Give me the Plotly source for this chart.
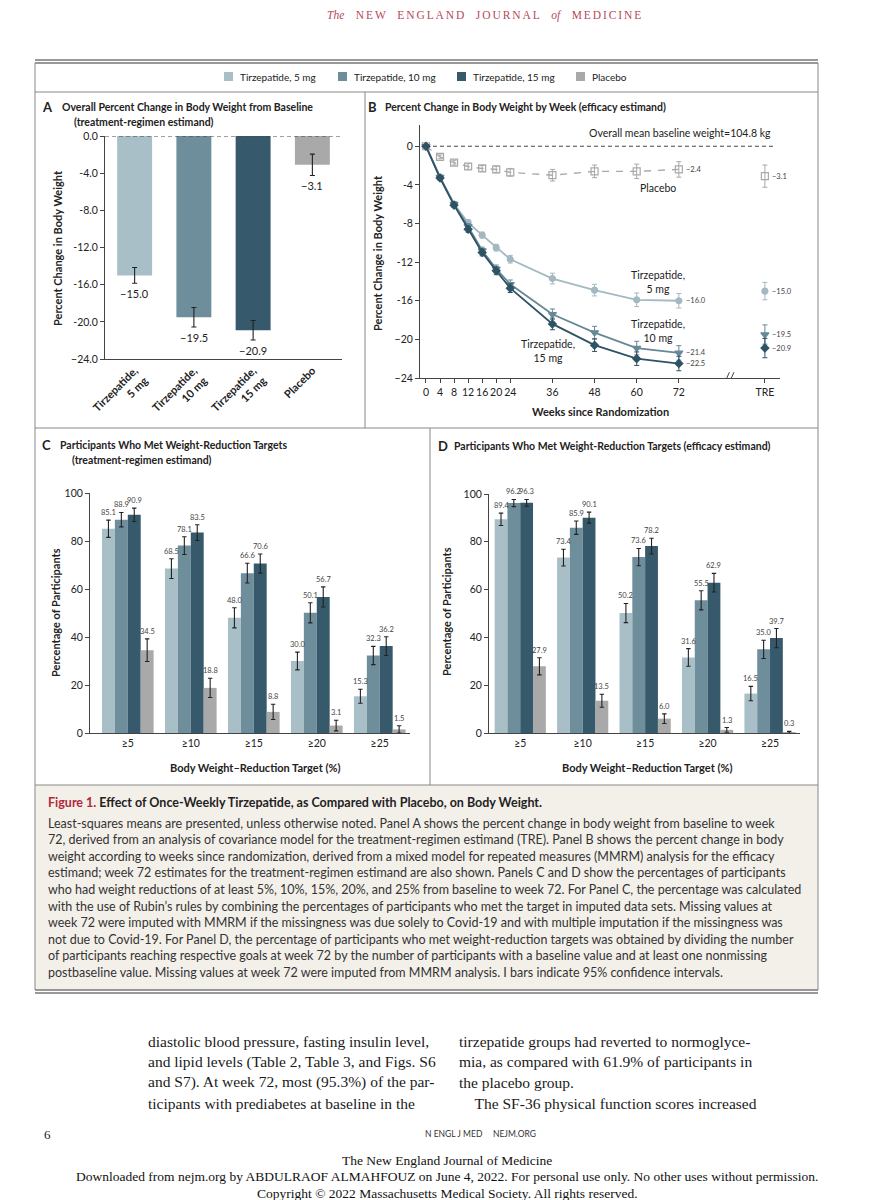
import plotly.graph_objects as go

W, H = 894, 1200


def px(x):
    return x / W


def py(y):
    return 1 - y / H


SANS = "Lato"
SERIF = "Liberation Serif"
INK = "#222222"
AXIS = "#444444"

# ---------------- data ----------------
GROUPS = ["Tirzepatide, 5 mg", "Tirzepatide, 10 mg", "Tirzepatide, 15 mg", "Placebo"]
COLORS = ["#a9bfc8", "#6f8e9c", "#365a6b", "#a9a9a9"]

# Panel A (treatment-regimen estimand, week 72)
a_ticktext = ["Tirzepatide,<br>5 mg", "Tirzepatide,<br>10 mg", "Tirzepatide,<br>15 mg", "Placebo"]
a_change = [-15.0, -19.5, -20.9, -3.1]
a_ci = [0.85, 1.05, 1.05, 1.15]
a_yticks = [0, -4, -8, -12, -16, -20, -24]
a_yticktext = ["0.0", "-4.0", "-8.0", "-12.0", "-16.0", "-20.0", "\u221224.0"]

# Panel B (efficacy estimand by week)
weeks = [0, 4, 8, 12, 16, 20, 24, 36, 48, 60, 72]
b_placebo = [0, -1.1, -1.7, -2.1, -2.3, -2.4, -2.7, -3.0, -2.6, -2.6, -2.4]
b_t5 = [0, -3.2, -6.0, -7.9, -9.2, -10.5, -11.7, -13.7, -14.9, -15.9, -16.0]
b_t10 = [0, -3.2, -6.0, -8.3, -10.8, -12.7, -14.3, -17.4, -19.3, -20.9, -21.4]
b_t15 = [0, -3.3, -6.1, -8.6, -11.0, -12.9, -14.7, -18.4, -20.6, -22.0, -22.5]
b_placebo_ci = [0, 0.2, 0.25, 0.3, 0.3, 0.35, 0.4, 0.6, 0.65, 0.75, 0.8]
b_t5_ci = [0, 0.2, 0.25, 0.3, 0.3, 0.35, 0.4, 0.55, 0.6, 0.7, 0.75]
b_t10_ci = [0, 0.2, 0.25, 0.3, 0.35, 0.4, 0.45, 0.55, 0.65, 0.7, 0.75]
b_t15_ci = [0, 0.2, 0.25, 0.3, 0.35, 0.4, 0.45, 0.6, 0.65, 0.7, 0.75]
tre_change = [-3.1, -15.0, -19.5, -20.9]   # placebo, 5 mg, 10 mg, 15 mg
tre_ci = [1.15, 0.9, 1.0, 1.0]
TRE_X = 96.5
b_yticks = [0, -4, -8, -12, -16, -20, -24]
b_yticktext = ["0", "-4", "-8", "-12", "-16", "\u221220", "\u221224"]

# Panels C and D
targets = ["\u22655", "\u226510", "\u226515", "\u226520", "\u226525"]
c_vals = [
    [85.1, 68.5, 48.0, 30.0, 15.3],
    [88.9, 78.1, 66.6, 50.1, 32.3],
    [90.9, 83.5, 70.6, 56.7, 36.2],
    [34.5, 18.8, 8.8, 3.1, 1.5],
]
c_ci = [
    [3.6, 4.1, 4.2, 3.7, 2.9],
    [3.0, 3.7, 4.1, 4.2, 3.8],
    [2.8, 3.3, 4.0, 4.2, 3.9],
    [4.7, 4.0, 3.2, 2.2, 1.5],
]
d_vals = [
    [89.4, 73.4, 50.2, 31.6, 16.5],
    [96.2, 85.9, 73.6, 55.5, 35.0],
    [96.3, 90.1, 78.2, 62.9, 39.7],
    [27.9, 13.5, 6.0, 1.3, 0.3],
]
d_ci = [
    [2.6, 3.5, 4.0, 3.7, 3.0],
    [1.5, 2.8, 3.6, 4.0, 3.8],
    [1.4, 2.3, 3.3, 3.9, 4.0],
    [3.6, 2.7, 2.0, 1.0, 0.4],
]
pct_ticks = [0, 20, 40, 60, 80, 100]

caption_lines = [
    "Least-squares means are presented, unless otherwise noted. Panel A shows the percent change in body weight from baseline to week",
    "72, derived from an analysis of covariance model for the treatment-regimen estimand (TRE). Panel B shows the percent change in body",
    "weight according to weeks since randomization, derived from a mixed model for repeated measures (MMRM) analysis for the efficacy",
    "estimand; week 72 estimates for the treatment-regimen estimand are also shown. Panels C and D show the percentages of participants",
    "who had weight reductions of at least 5%, 10%, 15%, 20%, and 25% from baseline to week 72. For Panel C, the percentage was calculated",
    "with the use of Rubin\u2019s rules by combining the percentages of participants who met the target in imputed data sets. Missing values at",
    "week 72 were imputed with MMRM if the missingness was due solely to Covid-19 and with multiple imputation if the missingness was",
    "not due to Covid-19. For Panel D, the percentage of participants who met weight-reduction targets was obtained by dividing the number",
    "of participants reaching respective goals at week 72 by the number of participants with a baseline value and at least one nonmissing",
    "postbaseline value. Missing values at week 72 were imputed from MMRM analysis. I bars indicate 95% confidence intervals.",
]
body_left = [
    "diastolic blood pressure, fasting insulin level,",
    "and lipid levels (Table 2, Table 3, and Figs. S6",
    "and S7). At week 72, most (95.3%) of the par-",
    "ticipants with prediabetes at baseline in the",
]
body_right = [
    "tirzepatide groups had reverted to normoglyce-",
    "mia, as compared with 61.9% of participants in",
    "the placebo group.",
    "\u2003The SF-36 physical function scores increased",
]
footer_lines = [
    "The New England Journal of Medicine",
    "Downloaded from nejm.org by ABDULRAOF ALMAHFOUZ on June 4, 2022. For personal use only. No other uses without permission.",
    "Copyright \u00a9 2022 Massachusetts Medical Society. All rights reserved.",
]

# ---------------- figure ----------------
fig = go.Figure()
annotations = []


def fmt(v):
    return ("\u2212" if v < 0 else "") + f"{abs(v):.1f}"


# Panel A bars
fig.add_trace(go.Bar(
    x=list(range(len(a_change))), y=a_change, width=0.59,
    marker=dict(color=COLORS, line=dict(width=0)),
    error_y=dict(type="data", array=a_ci, color="#222", thickness=1.1, width=2.5),
    xaxis="x", yaxis="y", showlegend=False, hoverinfo="skip"))
for i, (v, e) in enumerate(zip(a_change, a_ci)):
    annotations.append(dict(xref="x", yref="y", x=i, y=v - e, text=fmt(v), showarrow=False,
                            yanchor="top", yshift=-2,
                            font=dict(family=SANS, size=11, color=INK)))

# Panel B lines
b_series = [
    (b_placebo, b_placebo_ci, COLORS[3], "square-open", 7, "dash", 1.4),
    (b_t5, b_t5_ci, "#a3b9c2", "circle", 6, "solid", 1.8),
    (b_t10, b_t10_ci, "#678897", "triangle-down", 7, "solid", 1.8),
    (b_t15, b_t15_ci, "#2f5364", "diamond", 6, "solid", 1.8),
]
for vals, ci, col, sym, size, dash, lw in b_series:
    fig.add_trace(go.Scatter(
        x=weeks, y=vals, mode="lines+markers",
        line=dict(color=col, width=lw, dash="7px,7px" if dash == "dash" else "solid"),
        marker=dict(symbol=sym, size=size, color=col, line=dict(color=col, width=1.2)),
        error_y=dict(type="data", array=ci, color=col, thickness=1, width=2.5),
        xaxis="x2", yaxis="y2", showlegend=False, hoverinfo="skip", cliponaxis=False))

for k, (_, _, col, sym, size, _, _) in enumerate(b_series):
    fig.add_trace(go.Scatter(
        x=[TRE_X], y=[tre_change[k]], mode="markers",
        marker=dict(symbol=sym, size=size, color=col, line=dict(color=col, width=1.2)),
        error_y=dict(type="data", array=[tre_ci[k]], color=col, thickness=1, width=2.5),
        xaxis="x2", yaxis="y2", showlegend=False, hoverinfo="skip", cliponaxis=False))

# Panels C and D bars
BW = 0.205
for vals_set, ci_set, xa, ya in [(c_vals, c_ci, "x3", "y3"), (d_vals, d_ci, "x4", "y4")]:
    for j in range(4):
        off = -2 * BW + j * BW
        fig.add_trace(go.Bar(
            x=list(range(len(targets))), y=vals_set[j], width=BW, offset=off,
            marker=dict(color=COLORS[j], line=dict(width=0)),
            error_y=dict(type="data", array=ci_set[j], color="#222", thickness=1.1, width=2.2),
            xaxis=xa, yaxis=ya, showlegend=False, hoverinfo="skip"))
        for i, (v, e) in enumerate(zip(vals_set[j], ci_set[j])):
            annotations.append(dict(xref=xa, yref=ya, x=i + off + BW / 2, y=v + e,
                                    text=f"{v:.1f}", showarrow=False, yanchor="bottom", yshift=1,
                                    font=dict(family=SANS, size=7.5, color="#444")))


def axis(**kw):
    base = dict(showgrid=False, zeroline=False, showline=True, linecolor=AXIS, linewidth=1,
                tickfont=dict(family=SANS, size=10.5, color=INK), ticks="outside", ticklen=4,
                tickcolor=AXIS, fixedrange=True, automargin=False)
    base.update(kw)
    return base


fig.update_layout(
    width=W, height=H, margin=dict(l=0, r=0, t=0, b=0, autoexpand=False),
    paper_bgcolor="white", plot_bgcolor="rgba(0,0,0,0)",
    barmode="overlay", showlegend=False,
    xaxis=axis(domain=[px(105), px(342)], range=[-0.5, 3.5], anchor="y",
               tickvals=list(range(4)), ticktext=a_ticktext, tickangle=-45, ticks="",
               tickfont=dict(family=SANS, size=11, color=INK, weight="bold")),
    yaxis=axis(domain=[py(359), py(136)], range=[-24, 0], anchor="x",
               tickvals=a_yticks, ticktext=a_yticktext),
    xaxis2=axis(domain=[px(420), px(780)], range=[-1.7, 100.8], anchor="y2",
                tickvals=weeks + [TRE_X], ticktext=[str(w) for w in weeks] + ["TRE"],
                tickangle=0, tickfont=dict(family=SANS, size=10.5, color=INK)),
    yaxis2=axis(domain=[py(378), py(125)], range=[-24, 2.2], anchor="x2",
                tickvals=b_yticks, ticktext=b_yticktext),
    xaxis3=axis(domain=[px(90), px(410)], range=[-0.6, 4.48], anchor="y3",
                tickvals=list(range(5)), ticktext=targets, ticks=""),
    yaxis3=axis(domain=[py(733), py(493)], range=[0, 100], anchor="x3", tickvals=pct_ticks),
    xaxis4=axis(domain=[px(489), px(800)], range=[-0.5, 4.48], anchor="y4",
                tickvals=list(range(5)), ticktext=targets, ticks=""),
    yaxis4=axis(domain=[py(733), py(494)], range=[0, 100], anchor="x4", tickvals=pct_ticks),
)

shapes = []


def pline(x0, y0, x1, y1, color="#888", width=1):
    shapes.append(dict(type="line", xref="paper", yref="paper", x0=px(x0), y0=py(y0),
                       x1=px(x1), y1=py(y1), line=dict(color=color, width=width)))


shapes.append(dict(type="rect", xref="paper", yref="paper", x0=px(35), x1=px(818),
                   y0=py(990), y1=py(785), fillcolor="#f3f0ea", line=dict(width=0), layer="below"))
pline(35, 60, 818, 60, "#777", 1.3)
pline(35, 63, 818, 63, "#777", 1.3)
pline(35, 63, 35, 990)
pline(818, 63, 818, 990)
pline(35, 92, 818, 92)
pline(365, 92, 365, 428)
pline(35, 428, 818, 428)
pline(430, 428, 430, 785)
pline(35, 785, 818, 785)
pline(35, 990, 818, 990, "#777", 1.3)
pline(35, 993, 818, 993, "#777", 1.3)

# zero reference lines
shapes.append(dict(type="line", xref="x domain", yref="y", x0=0, x1=1, y0=0, y1=0,
                   line=dict(color=AXIS, width=1, dash="4px,3px")))
shapes.append(dict(type="line", xref="x2", yref="y2", x0=0, x1=99, y0=0, y1=0,
                   line=dict(color=AXIS, width=1, dash="4px,3px")))
# axis break marks
shapes.append(dict(type="rect", xref="x2", yref="y2", x0=85.2, x1=87.8, y0=-24.15, y1=-23.85,
                   fillcolor="white", line=dict(width=0)))
for dx in (0, 1.3):
    shapes.append(dict(type="line", xref="x2", yref="y2", x0=84.9 + dx, x1=86.4 + dx,
                       y0=-24.6, y1=-23.4, line=dict(color=AXIS, width=1)))

# legend keys
legend_x = [224, 338, 457, 576]
for xk, col in zip(legend_x, COLORS):
    shapes.append(dict(type="rect", xref="paper", yref="paper", x0=px(xk), x1=px(xk + 9),
                       y0=py(81), y1=py(72), fillcolor=col, line=dict(width=0)))


def ann(x, y, text, size=10, color=INK, xanchor="left", family=SANS, weight="normal", **kw):
    d = dict(xref="paper", yref="paper", x=px(x), y=py(y), text=text, showarrow=False,
             xanchor=xanchor, yanchor="middle",
             font=dict(family=family, size=size, color=color, weight=weight))
    d.update(kw)
    annotations.append(d)


# header
def spaced(word):
    return "\u2006".join(word)


header = ("<i>The</i>\u2002\u2002" + "\u2002\u2002".join(spaced(w) for w in ["NEW", "ENGLAND", "JOURNAL"])
          + "\u2002\u2002<i>of</i>\u2002\u2002" + spaced("MEDICINE"))
ann(484, 16, header, size=11.5, color="#b5495a", xanchor="center", family=SERIF)

# legend labels
for xk, g in zip(legend_x, GROUPS):
    ann(xk + 14, 77, g, size=10)

# panel titles
ann(40, 107, "A", size=13, weight="bold")
ann(60, 107, "Overall Percent Change in Body Weight from Baseline", size=10.5, weight="bold")
ann(72, 122, "(treatment-regimen estimand)", size=10.5, weight="bold")
ann(366, 107, "B", size=13, weight="bold")
ann(383, 107, "Percent Change in Body Weight by Week (efficacy estimand)", size=10.5, weight="bold")
ann(40, 445, "C", size=13, weight="bold")
ann(58, 445, "Participants Who Met Weight-Reduction Targets", size=10.5, weight="bold")
ann(70, 460, "(treatment-regimen estimand)", size=10.5, weight="bold")
ann(436, 446, "D", size=13, weight="bold")
ann(452, 446, "Participants Who Met Weight-Reduction Targets (efficacy estimand)", size=10.5, weight="bold")

# axis titles
ann(57, 248, "Percent Change in Body Weight", size=11, weight="bold", xanchor="center", textangle=-90)
ann(378, 253, "Percent Change in Body Weight", size=11, weight="bold", xanchor="center", textangle=-90)
ann(600, 412, "Weeks since Randomization", size=11, weight="bold", xanchor="center")
ann(55, 613, "Percentage of Participants", size=11, weight="bold", xanchor="center", textangle=-90)
ann(446, 612, "Percentage of Participants", size=11, weight="bold", xanchor="center", textangle=-90)
ann(255, 767, "Body Weight\u2013Reduction Target (%)", size=11, weight="bold", xanchor="center")
ann(647, 767, "Body Weight\u2013Reduction Target (%)", size=11, weight="bold", xanchor="center")

# panel B annotations
ann(773, 133, "Overall mean baseline weight=104.8 kg", size=10.5, xanchor="right")
ann(658, 188, "Placebo", size=10.5, xanchor="center")
ann(658, 282, "Tirzepatide,<br>5 mg", size=10.5, xanchor="center")
ann(658, 331, "Tirzepatide,<br>10 mg", size=10.5, xanchor="center")
ann(548, 351, "Tirzepatide,<br>15 mg", size=10.5, xanchor="center")

# end-of-line labels (week 72) and TRE labels
for vals in [b_placebo, b_t5, b_t10, b_t15]:
    annotations.append(dict(xref="x2", yref="y2", x=weeks[-1], y=vals[-1], text=fmt(vals[-1]),
                            showarrow=False, xanchor="left", xshift=5,
                            font=dict(family=SANS, size=7.5, color="#444")))
for v in tre_change:
    annotations.append(dict(xref="x2", yref="y2", x=TRE_X, y=v, text=fmt(v),
                            showarrow=False, xanchor="left", xshift=5,
                            font=dict(family=SANS, size=7.5, color="#444")))

# caption
ann(46, 802, "<span style='color:#b2283a'>Figure 1.</span> Effect of Once-Weekly Tirzepatide, as Compared with Placebo, on Body Weight.",
    size=12.5, weight="bold", color="#222")
for i, line in enumerate(caption_lines):
    ann(46, 823 + i * 16.6, line, size=12.5, color="#333")

# body text
for i, line in enumerate(body_left):
    ann(146, 1041 + i * 20.7, line, size=15.5, family=SERIF, color="#1a1a1a")
for i, line in enumerate(body_right):
    ann(457, 1041 + i * 20.7, line, size=15.5, family=SERIF, color="#1a1a1a")

# page footer
ann(42, 1134, "6", size=13, family=SERIF, color="#222")
ann(480, 1134, "N ENGL J MED\u2003\u2002NEJM.ORG", size=8.5, xanchor="center", color="#333")
for i, line in enumerate(footer_lines):
    ann(447, 1160 + i * 16.5, line, size=13.5, family=SERIF, xanchor="center", color="#111")

fig.update_layout(shapes=shapes, annotations=annotations)
fig.write_html("out.html", config={"displayModeBar": False},
               post_script="document.body.style.margin='0px';document.body.style.overflow='hidden';")
